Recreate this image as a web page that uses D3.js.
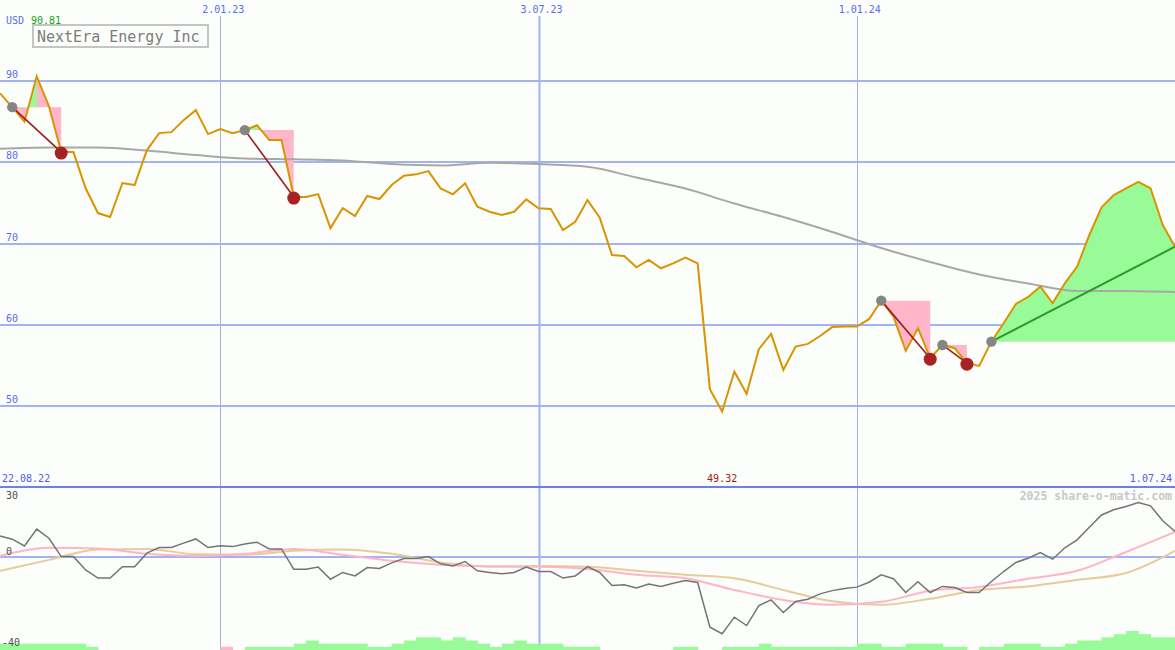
<!DOCTYPE html>
<html><head><meta charset="utf-8">
<script src="https://cdn.jsdelivr.net/npm/d3@7"></script>
<style>
html,body{margin:0;padding:0;background:#fcfefb;}
svg{display:block;}
text{font-family:"DejaVu Sans Mono",monospace;}
</style></head><body>
<svg id="c" width="1175" height="650"></svg>
<script>
// ---- data ----
const startDate = new Date(2022, 7, 29);
const endDate = new Date(2024, 6, 1);
const closes = [88.5, 86.8, 85.0, 90.6, 86.9, 81.26, 81.26, 76.8, 73.75, 73.26,
  77.45, 77.2, 81.5, 83.6, 83.72, 85.2, 86.43, 83.48, 84.09, 83.6,
  83.97, 84.58, 82.74, 82.74, 75.72, 75.72, 76.09, 71.9, 74.37, 73.38,
  75.85, 75.48, 77.2, 78.34, 78.52, 78.92, 76.79, 76.06, 77.41, 74.53,
  73.91, 73.51, 73.91, 75.44, 74.33, 74.25, 71.66, 72.68, 75.35, 73.17,
  68.58, 68.46, 67.07, 67.97, 66.95, 67.56, 68.25, 67.56, 52.05, 49.3,
  54.22, 51.48, 56.98, 58.86, 54.43, 57.3, 57.63, 58.6, 59.7, 59.76,
  59.76, 60.67, 62.96, 61.0, 56.77, 59.56, 55.87, 57.5, 57.1, 55.26,
  54.92, 57.91, 60.18, 62.55, 63.42, 64.71, 62.64, 65.1, 67.14, 71.05,
  74.45, 75.97, 76.8, 77.6, 76.8, 72.28, 69.6];
// moving average, sampled every 4 weeks
const maValues = [81.66, 81.82, 81.82, 81.45, 80.89, 80.46, 80.37, 80.22, 79.78, 79.6,
  79.94, 79.78, 79.45, 78.12, 76.77, 74.92, 73.26, 71.42, 69.45, 67.72,
  66.18, 65.08, 64.15, 64.15, 64.03];
const oscValues = [9.0, 7.6, 4.7, 11.9, 8.0, 0.1, 0.1, -5.6, -9.1, -9.1,
  -4.2, -4.2, 1.6, 4.0, 4.0, 5.9, 7.7, 4.0, 4.8, 4.4,
  5.5, 6.3, 3.4, 3.4, -5.3, -5.3, -4.4, -9.6, -6.7, -8.2,
  -4.6, -5.0, -2.6, -0.7, -0.7, 0.1, -3.0, -3.9, -2.0, -6.0,
  -6.7, -7.3, -6.7, -4.4, -6.3, -6.3, -9.1, -8.2, -4.2, -6.7,
  -12.3, -12.0, -13.4, -11.7, -12.7, -11.3, -10.2, -11.0, -30.2, -33.0,
  -25.9, -29.5, -20.9, -18.5, -23.9, -19.2, -18.2, -15.9, -14.5, -13.6,
  -13.0, -10.9, -7.7, -9.4, -15.3, -10.7, -15.3, -12.7, -13.2, -15.3,
  -15.3, -10.6, -6.3, -2.4, -0.6, 1.8, -1.0, 3.9, 7.3, 12.7,
  18.0, 20.2, 21.6, 23.3, 21.9, 15.5, 10.9];
// smoothed oscillator lines, sampled every 4 weeks
const oscPink = [0.4, 3.9, 3.6, 1.3, 0.4, 1.3, 3.4, 0.9, -1.7, -3.4,
  -4.1, -4.3, -5.2, -7.7, -9.2, -14.2, -18.5, -20.6, -19.3, -14.6,
  -12.9, -9.4, -6.0, 2.1, 10.7];
const oscTan = [-6.0, -1.3, 3.2, 3.4, 1.1, 0.9, 2.6, 3.2, 1.3, -2.4,
  -4.1, -3.9, -4.3, -6.0, -7.7, -9.2, -14.2, -19.1, -20.6, -18.0,
  -14.2, -12.7, -9.9, -6.9, 2.6];
const volume = [2,2,2,2,2,2,2,1,0,0, 0,0,0,0,0,0,0,0,-1,0,
  1,1,1,1,2,3,2,2,2,2, 1,1,2,3,4,4,3,4,3,2,
  1,2,3,2,2,2,1,1,1,0, 0,0,0,0,0,1,1,0,0,1,
  1,1,2,1,1,1,1,1,1,1, 2,2,1,1,2,2,2,1,1,0,
  1,1,2,2,2,1,1,2,3,3, 4,5,6,5,4,4];
const tradeEntry = [1, 20, 72, 77, 81];
const tradeExit  = [5, 24, 76, 79, 96];
const tradeOpen  = [false, false, false, false, true];
const priceTicks = [90, 80, 70, 60, 50];
const dateTickLabels = ["2.01.23", "3.07.23", "1.01.24"];
const dateTickDates = [new Date(2023,0,2), new Date(2023,6,3), new Date(2024,0,1)];
const dateTickMajor = [false, true, false];
const oscTicks = [30, 0, -40];
const title = "NextEra Energy Inc";
const highLabel = "90.81", lowLabel = "49.32";
const startLabel = "22.08.22", endLabel = "1.07.24";

// ---- scales ----
const W = 1175, H = 650;
const weeks = d3.timeMonday.range(startDate, d3.timeDay.offset(endDate, 1));
const sampleWeeks = weeks.filter((d, i) => i % 4 === 0);
const x = d3.scaleTime().domain([startDate, endDate]).range([0, W]);
const y = d3.scaleLinear().domain([40, 100]).range([487, 0]);
const yo = d3.scaleLinear().domain([-40, 30]).range([650, 487]);
const yv = d3.scaleLinear().domain([0, 6]).range([650, 631]);

const svg = d3.select("#c");
svg.append("rect").attr("width", W).attr("height", H).attr("fill", "#fcfefb");

// horizontal grid (price)
svg.append("g").selectAll("line").data(priceTicks).join("line")
  .attr("x1", 0).attr("x2", W).attr("y1", d => Math.round(y(d))).attr("y2", d => Math.round(y(d)))
  .attr("stroke", "#a3b2f2").attr("stroke-width", 2);
// zero line in oscillator panel
svg.append("line").attr("x1", 0).attr("x2", W).attr("y1", Math.round(yo(0))).attr("y2", Math.round(yo(0)))
  .attr("stroke", "#a3b2f2").attr("stroke-width", 2);
// vertical grid
svg.append("g").selectAll("line").data(dateTickDates).join("line")
  .attr("x1", d => Math.round(x(d)) + 0.5).attr("x2", d => Math.round(x(d)) + 0.5)
  .attr("y1", 16).attr("y2", H)
  .attr("stroke", (d, i) => dateTickMajor[i] ? "#a3b2f2" : "#aab0d8")
  .attr("stroke-width", (d, i) => dateTickMajor[i] ? 2 : 1);
// separator
svg.append("line").attr("x1", 0).attr("x2", W).attr("y1", 487).attr("y2", 487)
  .attr("stroke", "#6f7fea").attr("stroke-width", 2);

// volume bars
const bw = x(weeks[1]) - x(weeks[0]);
svg.append("g").selectAll("rect").data(volume).join("rect")
  .attr("x", (d, i) => x(weeks[i])).attr("width", bw + 0.5)
  .attr("y", d => yv(Math.abs(d))).attr("height", d => 650 - yv(Math.abs(d)))
  .attr("fill", d => d < 0 ? "#ffb6c8" : "#98fb98");

// oscillator lines
const oscLine = d3.line().x(d => x(d[0])).y(d => yo(d[1]));
svg.append("path").datum(sampleWeeks.map((d, i) => [d, oscTan[i]]))
  .attr("d", oscLine.curve(d3.curveMonotoneX)).attr("fill", "none").attr("stroke", "#e4cc9c").attr("stroke-width", 2);
svg.append("path").datum(sampleWeeks.map((d, i) => [d, oscPink[i]]))
  .attr("d", oscLine.curve(d3.curveMonotoneX)).attr("fill", "none").attr("stroke", "#ffb4c8").attr("stroke-width", 2);
svg.append("path").datum(weeks.map((d, i) => [d, oscValues[i]]))
  .attr("d", d3.line().x(d => x(d[0])).y(d => yo(d[1]))).attr("fill", "none").attr("stroke", "#747474").attr("stroke-width", 1.5);

// trade fills
const defs = svg.append("defs");
tradeEntry.forEach((e, t) => {
  const xEnd = tradeExit[t];
  const level = closes[e];
  const pts = d3.range(e, xEnd + 1).map(i => [weeks[i], closes[i]]);
  const area = d3.area().x(d => x(d[0])).y0(y(level)).y1(d => y(d[1]));
  if (tradeOpen[t]) {
    svg.append("path").datum(pts).attr("d", area).attr("fill", "#98fb98");
  } else {
    svg.append("path").datum(pts).attr("d", area).attr("fill", "#ffb6c8");
    let peak = e;
    for (let i = e; i <= xEnd; i++) if (closes[i] > closes[peak]) peak = i;
    if (peak > e) {
      const cid = "clip" + t;
      defs.append("clipPath").attr("id", cid).append("rect")
        .attr("x", 0).attr("y", 0).attr("width", W).attr("height", y(level));
      svg.append("path").datum(pts.slice(0, peak - e + 1)).attr("d", area)
        .attr("fill", "#98fb98").attr("clip-path", "url(#" + cid + ")");
    }
  }
});

// moving average (drawn over the fills)
svg.append("path").datum(sampleWeeks.map((d, i) => [d, maValues[i]]))
  .attr("d", d3.line().x(d => x(d[0])).y(d => y(d[1])).curve(d3.curveMonotoneX))
  .attr("fill", "none").attr("stroke", "#a8a8a8").attr("stroke-width", 2);

// price line
svg.append("path").datum(weeks.map((d, i) => [d, closes[i]]))
  .attr("d", d3.line().x(d => x(d[0])).y(d => y(d[1])))
  .attr("fill", "none").attr("stroke", "#d99400").attr("stroke-width", 2).attr("stroke-linejoin", "miter");

// trade lines and dots
tradeEntry.forEach((e, t) => {
  const xe = tradeExit[t];
  svg.append("line")
    .attr("x1", x(weeks[e])).attr("y1", y(closes[e]))
    .attr("x2", x(weeks[xe])).attr("y2", y(closes[xe]))
    .attr("stroke", tradeOpen[t] ? "#2a9a2a" : "#a01c1c").attr("stroke-width", tradeOpen[t] ? 2 : 1.6);
});
tradeEntry.forEach((e, t) => {
  if (!tradeOpen[t]) {
    const xe = tradeExit[t];
    svg.append("circle").attr("cx", x(weeks[xe])).attr("cy", y(closes[xe]) + 1).attr("r", 6.5).attr("fill", "#a82222");
  }
  svg.append("circle").attr("cx", x(weeks[e])).attr("cy", y(closes[e])).attr("r", 5.2).attr("fill", "#858585");
});

// price tick labels
svg.append("g").selectAll("text").data(priceTicks).join("text")
  .attr("x", 6).attr("y", d => Math.round(y(d)) - 3).text(d => d)
  .attr("font-size", 10).attr("fill", "#5a6cf2");
// date tick labels
svg.append("g").selectAll("text").data(dateTickDates).join("text")
  .attr("x", d => x(d) + 3).attr("y", 13).attr("text-anchor", "middle")
  .text((d, i) => dateTickLabels[i]).attr("font-size", 10).attr("fill", "#5a6cf2");

svg.append("text").attr("x", 6).attr("y", 24).attr("font-size", 10).attr("fill", "#5a6cf2").text("USD");
svg.append("text").attr("x", 31).attr("y", 24).attr("font-size", 10).attr("fill", "#18a018").text(highLabel);

// title box
svg.append("rect").attr("x", 33).attr("y", 25).attr("width", 175).attr("height", 22)
  .attr("fill", "#fcfefb").attr("stroke", "#c4c4c4").attr("stroke-width", 2);
svg.append("text").attr("x", 37).attr("y", 42).attr("font-size", 15).attr("fill", "#7c7c7c").text(title);

// bottom labels
svg.append("text").attr("x", 2).attr("y", 482).attr("font-size", 10).attr("fill", "#4a5cf0").text(startLabel);
svg.append("text").attr("x", 1172).attr("y", 482).attr("text-anchor", "end").attr("font-size", 10).attr("fill", "#4a5cf0").text(endLabel);
svg.append("text").attr("x", x(weeks[closes.indexOf(d3.min(closes))])).attr("y", 482).attr("text-anchor", "middle")
  .attr("font-size", 10).attr("fill", "#a01818").text(lowLabel);
svg.append("text").attr("x", 1172).attr("y", 500).attr("text-anchor", "end").attr("font-size", 11.5)
  .attr("font-weight", "bold").attr("fill", "#c8c8c8").text("2025 share-o-matic.com");

// oscillator tick labels
svg.append("g").selectAll("text").data(oscTicks).join("text")
  .attr("x", d => d < 0 ? 2 : 6)
  .attr("y", d => d === 30 ? 499 : d === 0 ? 555 : 646)
  .text(d => d).attr("font-size", 10).attr("fill", "#505050");
</script>
</body></html>
